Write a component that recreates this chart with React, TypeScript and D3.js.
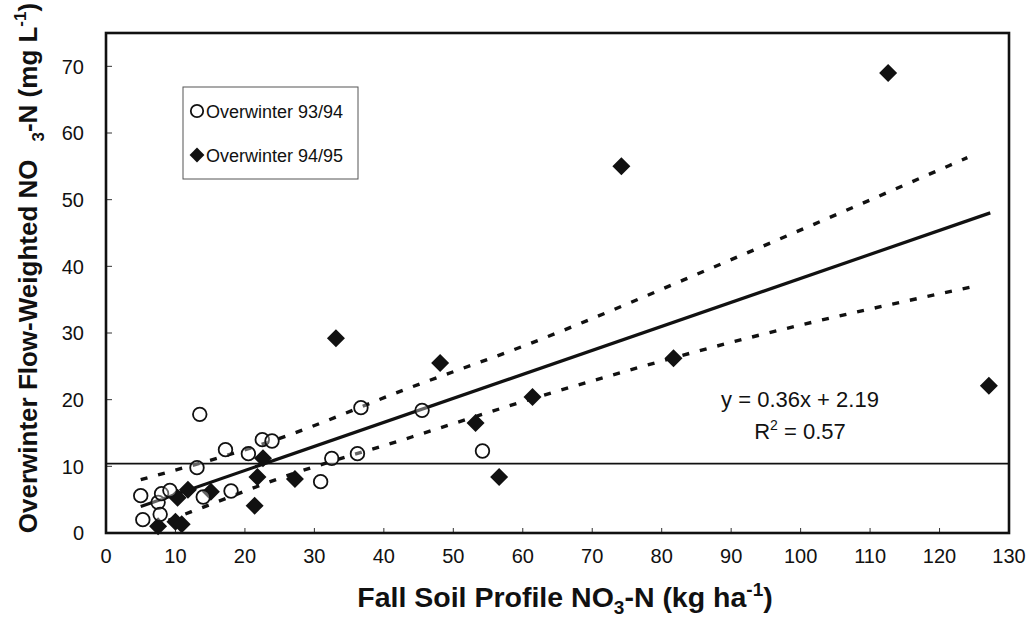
import React from 'react';
import * as d3 from 'd3';

// ---- data ----
const xTicks = [0, 10, 20, 30, 40, 50, 60, 70, 80, 90, 100, 110, 120, 130];
const yTicks = [0, 10, 20, 30, 40, 50, 60, 70];

const seriesLabels = ['Overwinter 93/94', 'Overwinter 94/95'];

// Overwinter 93/94 (open circles)
const ow9394X = [5.0, 5.3, 7.5, 7.8, 8.0, 9.2, 13.1, 13.5, 14.0, 17.2, 18.0, 20.5, 22.5, 23.9, 30.9, 32.5, 36.2, 36.7, 45.5, 54.2];
const ow9394Y = [5.6, 2.0, 4.6, 2.8, 5.9, 6.4, 9.8, 17.8, 5.4, 12.5, 6.3, 11.9, 14.0, 13.8, 7.7, 11.2, 11.9, 18.8, 18.4, 12.3];

// Overwinter 94/95 (filled diamonds)
const ow9495X = [7.5, 10.0, 10.9, 10.3, 11.8, 15.1, 21.4, 21.8, 22.6, 27.2, 33.1, 48.1, 53.2, 56.6, 61.4, 74.2, 81.7, 112.6, 127.1];
const ow9495Y = [1.0, 1.7, 1.3, 5.3, 6.5, 6.2, 4.1, 8.4, 11.2, 8.1, 29.2, 25.5, 16.5, 8.4, 20.4, 55.0, 26.2, 69.0, 22.1];

// regression shown on the chart
const fitSlope = 0.36;
const fitIntercept = 2.19;
const fitR2 = 0.57;
const fitRangeX = [5, 127.3];

// dashed band lines
const upperBandX = [5, 25, 44, 60, 90, 124];
const upperBandY = [8.0, 14.2, 21.9, 28.0, 41.0, 56.3];
const lowerBandX = [9, 12.3, 25, 44, 60, 93, 125];
const lowerBandY = [1.9, 3.2, 8.2, 14.4, 19.7, 29.4, 37.0];

// horizontal reference line
const thresholdY = 10.4;

const FONT = 'Liberation Sans, Arial, Helvetica, sans-serif';

export default function App() {
  const W = 1030;
  const H = 628;
  const left = 106, right = 1009, top = 33, bottom = 533;

  const x = d3.scaleLinear().domain([0, 130]).range([left, right]);
  const y = d3.scaleLinear().domain([0, 75]).range([bottom, top]);

  const line = d3
    .line<[number, number]>()
    .x((d) => x(d[0]))
    .y((d) => y(d[1]));
  const curve = d3
    .line<[number, number]>()
    .x((d) => x(d[0]))
    .y((d) => y(d[1]))
    .curve(d3.curveMonotoneX);

  const fitPts: [number, number][] = fitRangeX.map((v) => [v, fitSlope * v + fitIntercept]);
  const upperPts: [number, number][] = upperBandX.map((v, i) => [v, upperBandY[i]]);
  const lowerPts: [number, number][] = lowerBandX.map((v, i) => [v, lowerBandY[i]]);

  const diamond = d3.symbol().type(d3.symbolSquare).size(162)() as string;
  const legendDiamond = d3.symbol().type(d3.symbolSquare).size(110)() as string;

  return (
    <svg
      width={W}
      height={H}
      viewBox={`0 0 ${W} ${H}`}
      style={{ position: 'absolute', left: 0, top: 0, background: '#fff' }}
      fontFamily={FONT}
    >
      <rect x={0} y={0} width={W} height={H} fill="#fff" />

      {/* horizontal reference line */}
      <line x1={x(0)} x2={x(130)} y1={y(thresholdY)} y2={y(thresholdY)} stroke="#111" strokeWidth={1.6} />

      {/* ticks inside */}
      {xTicks.map((t) => (
        <line key={'xt' + t} x1={x(t)} x2={x(t)} y1={bottom} y2={bottom - 5} stroke="#333" strokeWidth={1} />
      ))}
      {yTicks.map((t) => (
        <line key={'yt' + t} x1={left} x2={left + 6} y1={y(t)} y2={y(t)} stroke="#333" strokeWidth={1} />
      ))}

      {/* band lines */}
      <path d={curve(upperPts) as string} fill="none" stroke="#111" strokeWidth={3.4} strokeDasharray="7,11" />
      <path d={curve(lowerPts) as string} fill="none" stroke="#111" strokeWidth={3.4} strokeDasharray="7,11" />

      {/* regression line */}
      <path d={line(fitPts) as string} fill="none" stroke="#111" strokeWidth={3.2} />

      {/* diamonds */}
      {ow9495X.map((v, i) => (
        <path
          key={'d' + i}
          d={diamond}
          transform={`translate(${x(v)},${y(ow9495Y[i])}) rotate(45)`}
          fill="#111"
        />
      ))}
      {/* circles */}
      {ow9394X.map((v, i) => (
        <circle key={'c' + i} cx={x(v)} cy={y(ow9394Y[i])} r={6.8} fill="#fff" fillOpacity={0.35} stroke="#111" strokeWidth={1.8} />
      ))}

      {/* frame */}
      <rect x={left} y={top} width={right - left} height={bottom - top} fill="none" stroke="#111" strokeWidth={2.6} />

      {/* tick labels */}
      {xTicks.map((t) => (
        <text key={'xl' + t} x={x(t)} y={563} textAnchor="middle" fontSize={20} fill="#111">
          {t}
        </text>
      ))}
      {yTicks.map((t) => (
        <text key={'yl' + t} x={84} y={y(t)} dy="0.36em" textAnchor="end" fontSize={20} fill="#111">
          {t}
        </text>
      ))}

      {/* legend */}
      <rect x={183} y={87} width={175} height={92} fill="#fff" stroke="#555" strokeWidth={1} />
      <circle cx={197} cy={111} r={6.2} fill="#fff" stroke="#111" strokeWidth={1.8} />
      <text x={206} y={117.5} fontSize={18} fill="#111">{seriesLabels[0]}</text>
      <path d={legendDiamond} transform="translate(197,155) rotate(45)" fill="#111" />
      <text x={206} y={161.5} fontSize={18} fill="#111">{seriesLabels[1]}</text>

      {/* equation */}
      <text x={800} y={407} textAnchor="middle" fontSize={22} fill="#111">
        {`y = ${fitSlope.toFixed(2)}x + ${fitIntercept.toFixed(2)}`}
      </text>
      <text x={800} y={439} textAnchor="middle" fontSize={22} fill="#111">
        R<tspan dy={-9} fontSize={14}>2</tspan>
        <tspan dy={9}>{` = ${fitR2.toFixed(2)}`}</tspan>
      </text>

      {/* x axis title */}
      <text x={565} y={607} textAnchor="middle" fontSize={28.5} fontWeight="bold" fill="#111">
        Fall Soil Profile NO<tspan dy={7} fontSize={19}>3</tspan>
        <tspan dy={-7}>-N (kg ha</tspan>
        <tspan dy={-11} fontSize={19}>-1</tspan>
        <tspan dy={11}>)</tspan>
      </text>

      {/* y axis title */}
      <text
        transform="translate(37,268) rotate(-90)"
        textAnchor="middle"
        fontSize={26}
        fontWeight="bold"
        fill="#111"
      >
        Overwinter Flow-Weighted NO
        <tspan dx={18} dy={7} fontSize={17}>3</tspan>
        <tspan dy={-7}>-N (mg L</tspan>
        <tspan dy={-11} fontSize={17}>-1</tspan>
        <tspan dy={11}>)</tspan>
      </text>
    </svg>
  );
}
